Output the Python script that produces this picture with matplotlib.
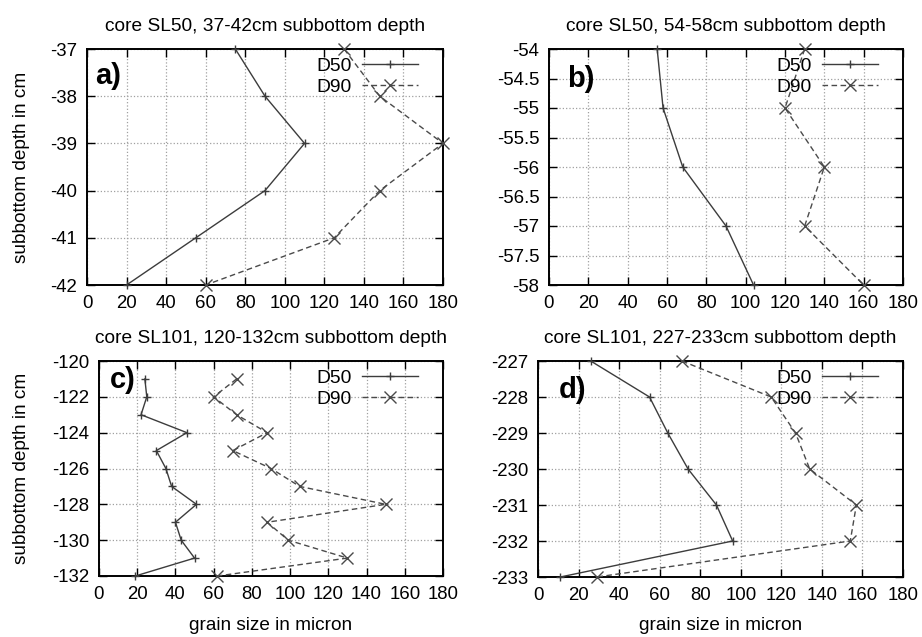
import numpy as np
import matplotlib
matplotlib.use("Agg")
import matplotlib.pyplot as plt

plt.rcParams['font.family'] = ['Liberation Sans', 'DejaVu Sans']
plt.rcParams['axes.unicode_minus'] = False

# panel a: core SL50, 37-42 cm
depth_a = [-37, -38, -39, -40, -41, -42]
d50_a = [75, 90, 110, 90, 55, 20]
d90_a = [130, 148, 180, 148, 125, 60]

# panel b: core SL50, 54-58 cm
depth_b = [-54, -55, -56, -57, -58]
d50_b = [55, 58, 68, 90, 104]
d90_b = [130, 120, 140, 130, 160]

# panel c: core SL101, 120-132 cm
depth_c = [-121, -122, -123, -124, -125, -126, -127, -128, -129, -130, -131, -132]
d50_c = [24, 25, 22, 46, 30, 35, 38, 51, 40, 43, 50, 19]
d90_c = [72, 60, 72, 88, 70, 90, 105, 150, 88, 99, 130, 62]

# panel d: core SL101, 227-233 cm
depth_d = [-227, -228, -229, -230, -231, -232, -233]
d50_d = [26, 55, 64, 74, 88, 96, 11]
d90_d = [71, 115, 127, 134, 157, 154, 29]

titles = ["core SL50, 37-42cm subbottom depth",
          "core SL50, 54-58cm subbottom depth",
          "core SL101, 120-132cm subbottom depth",
          "core SL101, 227-233cm subbottom depth"]
letters = ["a)", "b)", "c)", "d)"]
yticks = [np.arange(-42, -36, 1), np.arange(-58, -53.9, 0.5),
          np.arange(-132, -119, 2), np.arange(-233, -226, 1)]
ylims = [(-42, -37), (-58, -54), (-132, -120), (-233, -227)]
xticks = np.arange(0, 181, 20)

W, H = 922, 637
# axes boxes in pixels: left, top, right, bottom
boxes = [(87, 49, 443, 285), (549, 49, 903, 285),
         (99, 361, 443, 576), (538, 361, 903, 577)]
letter_pos = [(0.022, 0.886), (0.05, 0.873), (0.032, 0.91), (0.058, 0.866)]

data = [(depth_a, d50_a, d90_a), (depth_b, d50_b, d90_b),
        (depth_c, d50_c, d90_c), (depth_d, d50_d, d90_d)]

fig = plt.figure(figsize=(W / 100, H / 100), dpi=100)

for i in range(4):
    l, t, r, b = boxes[i]
    ax = fig.add_axes([l / W, 1 - b / H, (r - l) / W, (b - t) / H])
    dep, d50, d90 = data[i]
    ax.plot(d50, dep, color='#3c3c3c', lw=1.0, marker='+', ms=6, mew=1.0,
            label='D50', clip_on=False, zorder=3)
    ax.plot(d90, dep, color='#4a4a4a', lw=1.0, ls=(0, (4, 2.5)), marker='x',
            ms=8, mew=1.0, label='D90', clip_on=False, zorder=3)
    ax.set_xlim(0, 180)
    ax.set_ylim(*ylims[i])
    ax.set_xticks(xticks)
    ax.set_yticks(yticks[i])
    ax.set_yticklabels(['%g' % v for v in yticks[i]])
    ax.grid(True, color='#a0a0a0', ls=':', lw=0.9)
    ax.tick_params(direction='in', top=True, right=True, length=6, width=1,
                   labelsize=13.4, pad=7)
    for s in ax.spines.values():
        s.set_linewidth(1.4)
    ax.set_title(titles[i], fontsize=13.8, pad=13)
    ax.text(letter_pos[i][0], letter_pos[i][1], letters[i], transform=ax.transAxes,
            fontsize=21, fontweight='bold', ha='left', va='center')
    ax_right = (r - 25 - l) / (r - l)
    ax_top = 1 - 8 / (b - t)
    ax.legend(loc='upper right', bbox_to_anchor=(ax_right, ax_top), frameon=False,
              fontsize=13.9, markerfirst=False, numpoints=1, handlelength=2.9,
              handletextpad=0.55, borderpad=0, borderaxespad=0, labelspacing=0.18)
    cx = (l + r) / 2
    cy = (t + b) / 2
    if i in (0, 2):
        fig.text(22 / W, 1 - cy / H, "subbottom depth in cm", rotation=90,
                 ha='center', va='center', fontsize=13.7)
    if i in (2, 3):
        fig.text(cx / W, 1 - 625 / H, "grain size in micron",
                 ha='center', va='center', fontsize=13.7)

fig.savefig("out.png", dpi=100)
